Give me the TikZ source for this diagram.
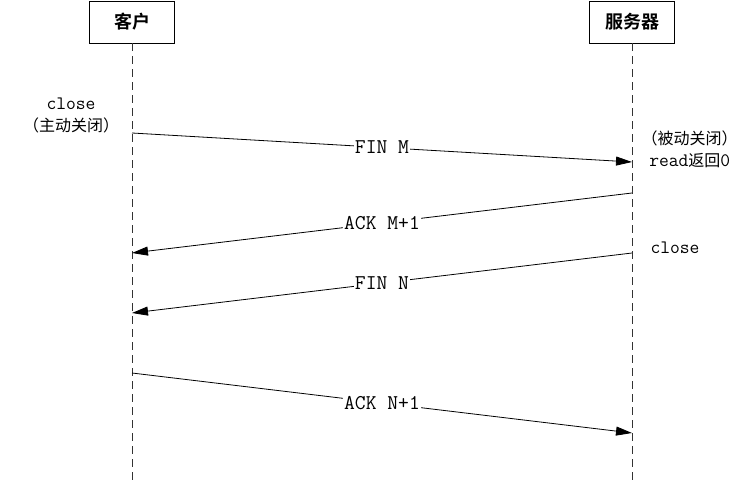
\documentclass[tikz,border=0pt]{standalone}
\usepackage{fontspec}
\usepackage{tikz}
\usetikzlibrary{arrows.meta}
\newfontfamily\cjk{Noto Sans CJK SC}
\newfontfamily\cjkbold{Noto Sans CJK SC Bold}
\newcommand{\zh}[1]{{\cjk\fontsize{16}{22}\selectfont #1}}

\begin{document}
\begin{tikzpicture}[x=1pt,y=-1pt,line width=0.8pt,
  actor/.style={draw,minimum width=85pt,minimum height=42pt,font=\cjkbold\fontsize{18}{20}\selectfont},
  life/.style={dash pattern=on 8pt off 5pt,black!80},
  msg/.style={-{Triangle[length=16pt,width=9pt]}},
  lbl/.style={fill=white,inner sep=1pt,font=\ttfamily\fontsize{21}{22}\selectfont},
  note/.style={font=\ttfamily\fontsize{19}{22}\selectfont,align=center}]
\useasboundingbox (0,0) rectangle (751,481);

\node[actor] (client) at (132,22) {客户};
\node[actor] (server) at (632,22) {服务器};
\coordinate (cend) at (132,481);
\coordinate (send) at (632,481);
\draw[life] (client) -- (cend);
\draw[life] (server) -- (send);

\coordinate (c1) at (132,133);
\coordinate (s1) at (632,162);
\coordinate (s2) at (632,193);
\coordinate (c2) at (132,253);
\coordinate (s3) at (632,253);
\coordinate (c3) at (132,313);
\coordinate (c4) at (132,373);
\coordinate (s4) at (632,433);

\draw[msg] (c1) -- node[lbl] {FIN M} (s1);
\draw[msg] (s2) -- node[lbl] {ACK M+1} (c2);
\draw[msg] (s3) -- node[lbl] {FIN N} (c3);
\draw[msg] (c4) -- node[lbl] {ACK N+1} (s4);

\node[note] (cclose) at (71,115) {close\\\zh{（主动关闭）}};
\node[note,anchor=west] (sread) at (638,149) {\zh{（被动关闭）}\\read\zh{返回}0};
\node[note] (sclose) at (675,248) {close};
\end{tikzpicture}
\end{document}
